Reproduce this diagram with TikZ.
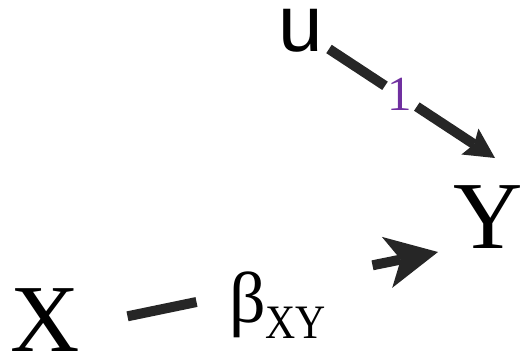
\documentclass[tikz,border=0pt]{standalone}
\usepackage{fontspec}
\setmainfont{Liberation Serif}
\newfontfamily\usans{Liberation Sans}
\usetikzlibrary{arrows.meta}
\definecolor{inkc}{HTML}{262626}
\definecolor{labc}{HTML}{7030A0}
\begin{document}
\begin{tikzpicture}[x=1bp,y=-1bp,
  var/.style={inner sep=0pt, anchor=base, text=black},
  bigserif/.style={font=\fontsize{96bp}{96bp}\selectfont},
  ln/.style={draw=inkc, line width=10bp},
  headsmall/.style={-{Stealth[length=30bp,width=31bp,inset=5bp,line width=0pt]}},
  headbig/.style={-{Stealth[length=52bp,width=52bp,inset=14bp,line width=0pt]}}]
\useasboundingbox (0,0) rectangle (528,355);
% variables
\node[var, bigserif] (X) at (45.5,351) {X};
\node[var, bigserif] (Y) at (488.5,248) {Y};
\node[var, font=\usans\fontsize{80bp}{80bp}\selectfont] (u) at (300.5,51) {u};
% labels
\node[var, text=labc, font=\fontsize{49bp}{49bp}\selectfont] (l1) at (400,110) {1};
\node[inner sep=0pt, anchor=base west, font=\fontsize{72bp}{72bp}\selectfont] (l2) at (229,322)
  {β\raisebox{-16bp}{\fontsize{48bp}{48bp}\selectfont\scalebox{0.87}[1]{XY}}};
% edge u -> Y
\coordinate (a1) at (329,49);
\coordinate (b1) at (385,85.8);
\coordinate (c1) at (416.8,106.6);
\coordinate (t1) at (495,158);
\draw[ln] (a1) -- (b1);
\draw[ln, headsmall] (c1) -- (t1);
% edge X -> Y
\coordinate (a2) at (127.5,316.3);
\coordinate (b2) at (196.5,302);
\coordinate (c2) at (372.5,265.3);
\coordinate (t2) at (438,252);
\draw[ln] (a2) -- (b2);
\draw[ln, headbig] (c2) -- (t2);
\end{tikzpicture}
\end{document}
